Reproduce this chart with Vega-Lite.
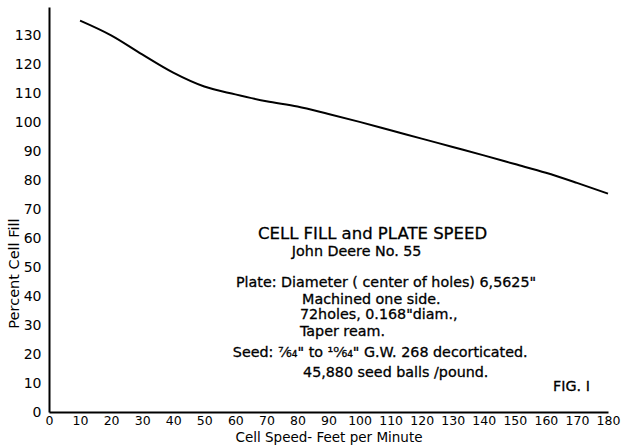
{
  "$schema": "https://vega.github.io/schema/vega-lite/v6.json",
  "width": 559,
  "height": 405,
  "autosize": {"type": "none"},
  "padding": {"left": 49, "top": 7, "right": 14, "bottom": 33},
  "background": "white",
  "config": {
    "view": {"stroke": null},
    "font": "DejaVu Sans",
    "axis": {
      "domainColor": "black",
      "domainWidth": 2,
      "ticks": false,
      "grid": false,
      "labelColor": "black",
      "labelFont": "DejaVu Sans",
      "labelFontSize": 14,
      "titleFont": "DejaVu Sans",
      "titleFontSize": 14.5,
      "titleFontWeight": "normal",
      "titleColor": "black"
    }
  },
  "datasets": {
    "curve": [
      {"speed": 10, "fill": 135.3},
      {"speed": 20, "fill": 130.2},
      {"speed": 30, "fill": 123.6},
      {"speed": 40, "fill": 117.3},
      {"speed": 50, "fill": 112.5},
      {"speed": 60, "fill": 109.8},
      {"speed": 70, "fill": 107.4},
      {"speed": 80, "fill": 105.6},
      {"speed": 90, "fill": 103.0},
      {"speed": 100, "fill": 100.3},
      {"speed": 110, "fill": 97.4},
      {"speed": 120, "fill": 94.5},
      {"speed": 130, "fill": 91.6},
      {"speed": 140, "fill": 88.7},
      {"speed": 150, "fill": 85.7},
      {"speed": 160, "fill": 82.7},
      {"speed": 170, "fill": 79.2},
      {"speed": 180, "fill": 75.5}
    ],
    "heading": [
      {"speed": 67.3, "fill": 61.6, "label": "CELL FILL and PLATE SPEED"}
    ],
    "notes": [
      {"speed": 78.2, "fill": 55.2, "label": "John Deere No. 55"},
      {"speed": 60.2, "fill": 44.5, "label": "Plate: Diameter ( center of holes) 6,5625\""},
      {"speed": 81.5, "fill": 38.6, "label": "Machined one side."},
      {"speed": 80.8, "fill": 33.4, "label": "72holes, 0.168\"diam.,"},
      {"speed": 80.8, "fill": 27.6, "label": "Taper ream."},
      {"speed": 59.2, "fill": 20.3, "label": "Seed: ⁷⁄₆₄\" to ¹⁰⁄₆₄\" G.W. 268 decorticated."},
      {"speed": 81.8, "fill": 13.4, "label": "45,880 seed balls /pound."},
      {"speed": 162.3, "fill": 8.6, "label": "FIG. I"}
    ]
  },
  "encoding": {
    "x": {
      "field": "speed", "type": "quantitative",
      "scale": {"domain": [0, 180], "nice": false, "zero": false},
      "axis": {
        "title": "Cell Speed- Feet per Minute",
        "values": [0,10,20,30,40,50,60,70,80,90,100,110,120,130,140,150,160,170,180],
        "labelFontSize": 12.5,
        "labelPadding": 2,
        "labelFlush": false,
        "labelOverlap": false,
        "titleFontSize": 13.5,
        "titleY": 29,
        "titleBaseline": "alphabetic"
      }
    },
    "y": {
      "field": "fill", "type": "quantitative",
      "scale": {"domain": [0, 140], "nice": false},
      "axis": {
        "title": "Percent Cell Fill",
        "values": [0,10,20,30,40,50,60,70,80,90,100,110,120,130],
        "labelPadding": 8,
        "labelFlush": false,
        "labelOverlap": false,
        "titleX": -35,
        "titleY": 266,
        "titleAngle": -90,
        "titleAlign": "center",
        "titleBaseline": "middle"
      }
    }
  },
  "layer": [
    {
      "data": {"name": "curve"},
      "mark": {"type": "line", "color": "black", "strokeWidth": 2, "interpolate": "monotone"}
    },
    {
      "data": {"name": "heading"},
      "mark": {"type": "text", "align": "left", "baseline": "middle", "fontSize": 16.5, "color": "black", "stroke": "black", "strokeWidth": 0.3, "font": "DejaVu Sans"},
      "encoding": {"text": {"field": "label"}}
    },
    {
      "data": {"name": "notes"},
      "mark": {"type": "text", "align": "left", "baseline": "middle", "fontSize": 14.3, "color": "black", "stroke": "black", "strokeWidth": 0.3, "font": "DejaVu Sans"},
      "encoding": {"text": {"field": "label"}}
    }
  ]
}
